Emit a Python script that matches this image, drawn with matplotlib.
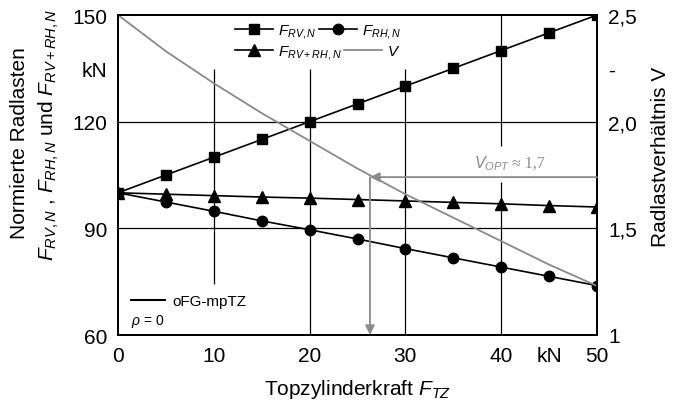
import numpy as np
import matplotlib
matplotlib.use('Agg')
import matplotlib.pyplot as plt
from matplotlib.lines import Line2D

plt.rcParams['font.family'] = ['Liberation Sans', 'DejaVu Sans']
plt.rcParams['mathtext.fontset'] = 'custom'
plt.rcParams['mathtext.rm'] = 'Liberation Sans'
plt.rcParams['mathtext.it'] = 'Liberation Sans:italic'
plt.rcParams['mathtext.bf'] = 'Liberation Sans:bold'

# Topzylinderkraft in kN
ftz = [0, 5, 10, 15, 20, 25, 30, 35, 40, 45, 50]
# normierte Radlasten in kN
f_rv = [100, 105, 110, 115, 120, 125, 130, 135, 140, 145, 150]
f_rh = [100, 97.4, 94.8, 92.1, 89.6, 87.0, 84.3, 81.7, 79.1, 76.5, 73.9]
f_rvrh = [100, 99.6, 99.2, 98.8, 98.5, 98.1, 97.7, 97.3, 96.9, 96.4, 96.0]
# Radlastverhaeltnis
v = [2.5, 2.33, 2.18, 2.04, 1.91, 1.78, 1.66, 1.55, 1.44, 1.33, 1.23]

v_opt = 1.74
ftz_opt = 26.3

xticks = [0, 10, 20, 30, 40, 45, 50]
xticklabels = ['0', '10', '20', '30', '40', 'kN', '50']
yticks = [60, 90, 120, 135, 150]
yticklabels = ['60', '90', '120', 'kN', '150']
y2ticks = [1, 1.5, 2.0, 2.25, 2.5]
y2ticklabels = ['1', '1,5', '2,0', '-', '2,5']

grau = '#8a8a8a'

fig = plt.figure(figsize=(6.73, 4.06), dpi=100)
ax = fig.add_axes([118/673, 1 - 336/406, 479/673, 320/406])
ax2 = ax.twinx()

ax.set_xlim(0, 50)
ax.set_ylim(60, 150)
ax2.set_ylim(1, 2.5)

# Gitter (mit Luecken wie im Original)
ax.axhline(90, color='k', lw=0.9, zorder=1)
ax.axhline(120, color='k', lw=0.9, zorder=1)
ax.vlines(10, 74.3, 134.8, color='k', lw=0.9, zorder=1)
ax.vlines([20, 30], 60, 134.8, color='k', lw=0.9, zorder=1)
ax.vlines(40, 60, 103, color='k', lw=0.9, zorder=1)
ax.vlines(40, 113.1, 150, color='k', lw=0.9, zorder=1)

ax.plot(ftz, f_rv, 'k-s', lw=1.2, ms=7, zorder=3)
ax.plot(ftz, f_rh, 'k-o', lw=1.2, ms=7.5, zorder=3)
ax.plot(ftz, f_rvrh, 'k-^', lw=1.2, ms=8, zorder=3)
ax2.plot(ftz, v, color=grau, lw=1.3, zorder=2)

# V_OPT Pfeile
ax2.annotate('', xy=(ftz_opt, v_opt), xytext=(50, v_opt),
             arrowprops=dict(arrowstyle='-|>', color=grau, lw=1.3,
                             mutation_scale=14, shrinkA=0, shrinkB=0))
ax2.annotate('', xy=(ftz_opt, 1.0), xytext=(ftz_opt, v_opt),
             arrowprops=dict(arrowstyle='-|>', color=grau, lw=1.3,
                             mutation_scale=14, shrinkA=0, shrinkB=0))
ax2.text(40.9, 1.787, r'$V_{OPT}$', color=grau, fontsize=11.5, ha='right', va='baseline')
ax2.text(41.1, 1.787, '\u2248 1,7', color=grau, fontsize=11.5, ha='left', va='baseline',
         family='Liberation Serif')

ax.set_xticks(xticks)
ax.set_xticklabels(xticklabels)
ax.set_yticks(yticks)
ax.set_yticklabels(yticklabels)
ax2.set_yticks(y2ticks)
ax2.set_yticklabels(y2ticklabels)
ax.tick_params(axis='both', length=0, labelsize=15, pad=8)
ax2.tick_params(axis='y', length=0, labelsize=15, pad=8)
for a in (ax, ax2):
    for s in a.spines.values():
        s.set_linewidth(1.3)

# Legenden
h_rv = Line2D([], [], color='k', marker='s', ms=7, lw=1.2)
h_rh = Line2D([], [], color='k', marker='o', ms=7.5, lw=1.2)
h_rvrh = Line2D([], [], color='k', marker='^', ms=8, lw=1.2)
h_v = Line2D([], [], color=grau, lw=1.3)
leg_kw = dict(frameon=False, fontsize=11, ncol=2, handlelength=2.5, handletextpad=0.35,
              columnspacing=0.1, borderpad=0, borderaxespad=0, loc='center left')
leg1 = ax2.legend([h_rv, h_rh], [r'$F_{RV,N}$', r'$F_{RH,N}$'],
                  bbox_to_anchor=(0.244, 0.95), **leg_kw)
ax2.add_artist(leg1)
leg2 = ax2.legend([h_rvrh, h_v], [r'$F_{RV+RH,N}$', r'$V$'],
                  bbox_to_anchor=(0.244, 0.884), **leg_kw)
ax2.add_artist(leg2)
ax2.legend([Line2D([], [], color='k', lw=1.5)], ['oFG-mpTZ'], frameon=False, fontsize=11,
           handlelength=2.2, handletextpad=0.5, borderpad=0, borderaxespad=0,
           loc='center left', bbox_to_anchor=(0.027, 0.106))
ax2.text(0.027, 0.044, r'$\rho$ = 0', transform=ax2.transAxes, fontsize=10,
         ha='left', va='center')

# Achsentitel
fig.text(20/673, 1 - 143/406, 'Normierte Radlasten', rotation=90, fontsize=15,
         ha='center', va='center')
fig.text(49/673, 1 - 135/406, r'$F_{RV,N}$ , $F_{RH,N}$ und $F_{RV+RH,N}$', rotation=90,
         fontsize=15, ha='center', va='center')
fig.text(661/673, 1 - 157/406, 'Radlastverhältnis V', rotation=90, fontsize=15,
         ha='center', va='center')
fig.text(358/673, 1 - 395/406, r'Topzylinderkraft $F_{TZ}$', fontsize=15,
         ha='center', va='baseline')

fig.savefig('out.png', dpi=100)
